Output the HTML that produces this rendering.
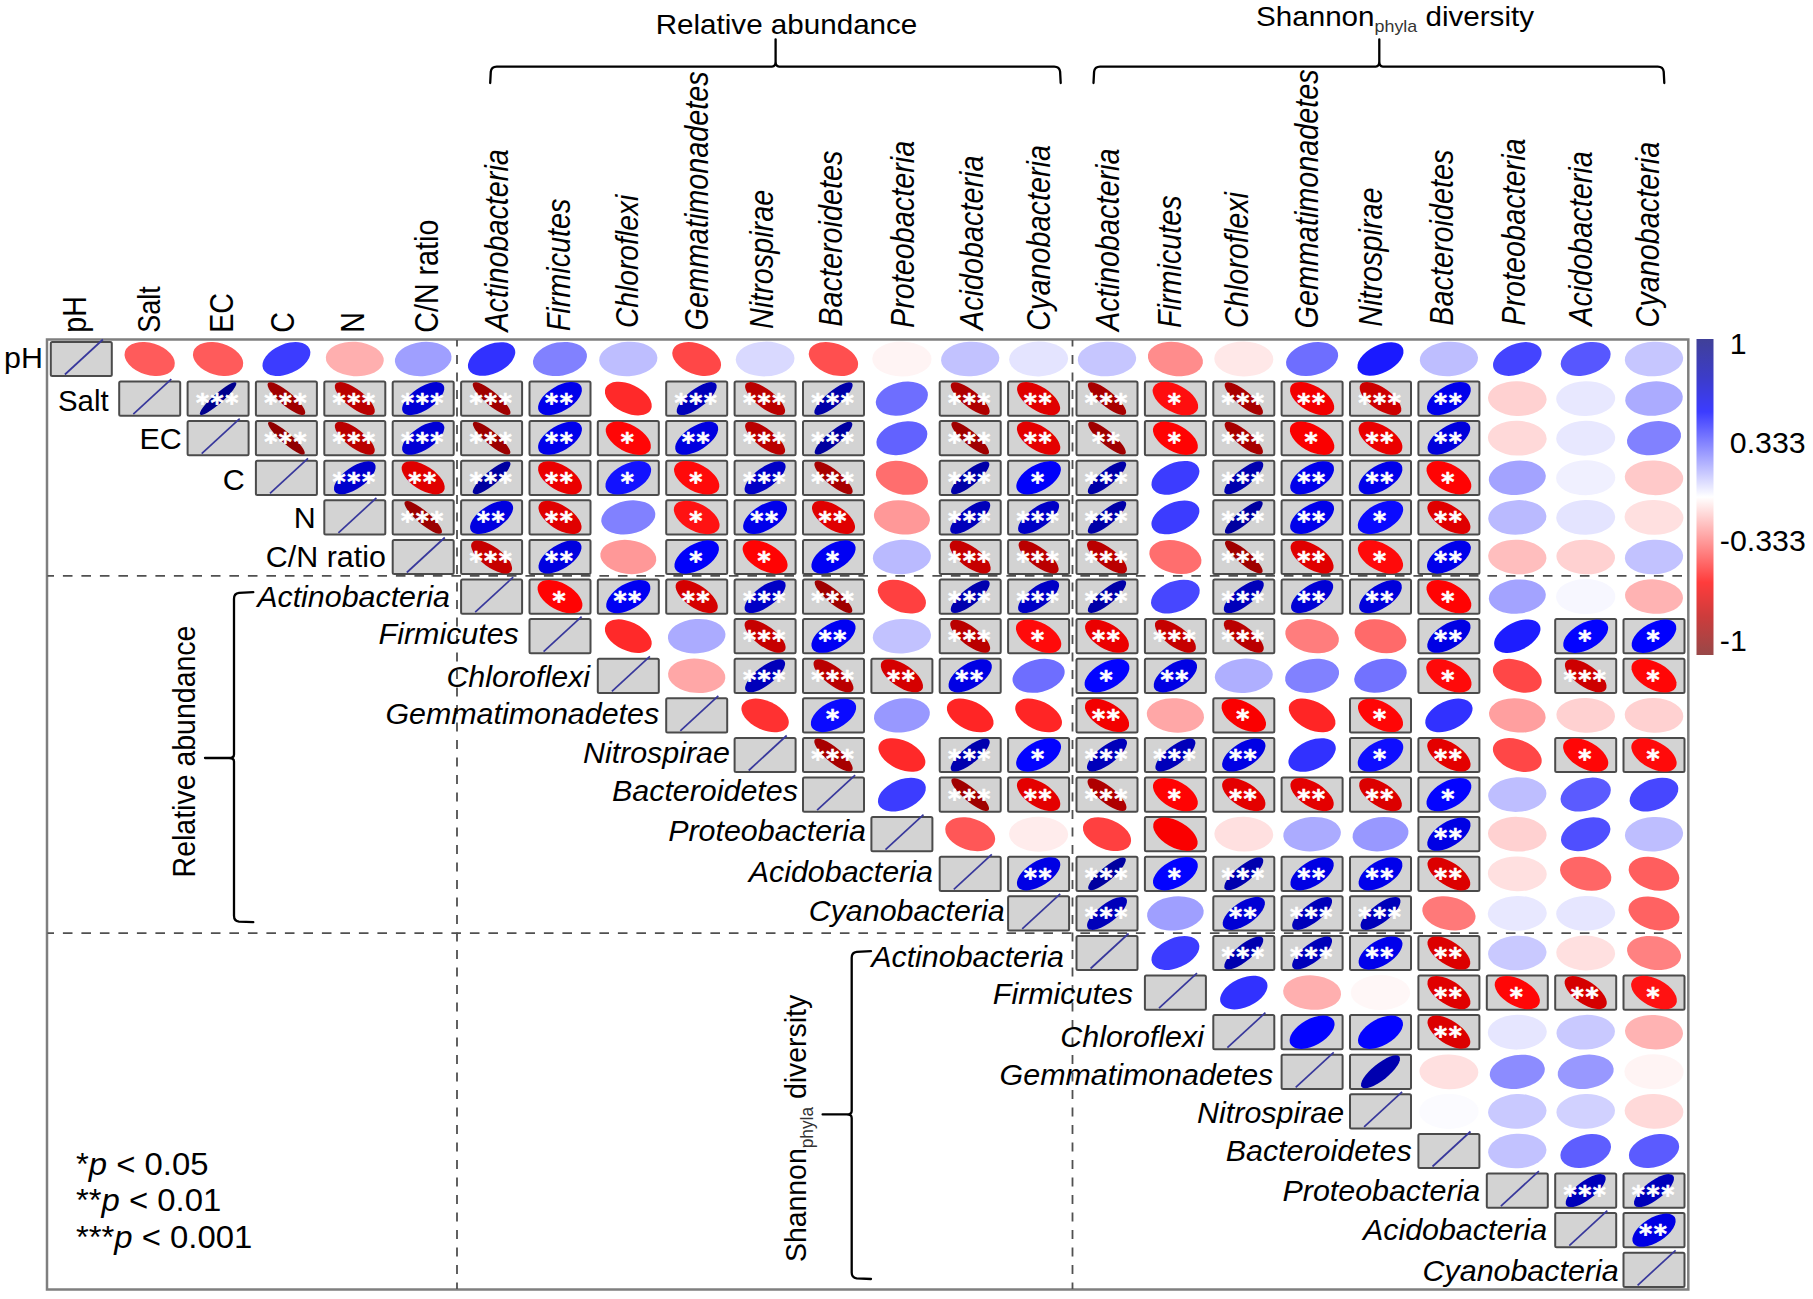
<!DOCTYPE html>
<html><head><meta charset="utf-8"><title>Correlation matrix</title>
<style>
html,body{margin:0;padding:0;background:#fff;}
svg{display:block;}
text{font-family:"Liberation Sans",Arial,sans-serif;fill:#000;}
.i{font-style:italic;}
.st{font-family:"DejaVu Sans",sans-serif;font-weight:bold;fill:#fff;stroke:#fff;stroke-width:0.6;font-size:25px;text-anchor:middle;}
.bx{fill:#d3d3d3;stroke:#4b4b4b;stroke-width:2;rx:1.5px;}
.dg{stroke:#38389c;stroke-width:1.7;}
.ds{stroke:#505050;stroke-width:1.8;fill:none;}
.br{stroke:#000;stroke-width:2.3;fill:none;stroke-linecap:round;stroke-linejoin:round;}
</style></head><body>
<svg width="1813" height="1299" viewBox="0 0 1813 1299">
<defs><linearGradient id="cb" x1="0" y1="0" x2="0" y2="1"><stop offset="0" stop-color="#404098"/><stop offset="0.12" stop-color="#3c3cc8"/><stop offset="0.23" stop-color="#3c3cff"/><stop offset="0.5" stop-color="#ffffff"/><stop offset="0.77" stop-color="#ff3c3c"/><stop offset="0.88" stop-color="#cc3c3c"/><stop offset="1" stop-color="#984848"/></linearGradient></defs>
<rect x="0" y="0" width="1813" height="1299" fill="#fff"/>
<rect x="47" y="339.5" width="1641.3" height="950" fill="none" stroke="#7f7f7f" stroke-width="2.5"/>
<g class="ds"><line x1="457.0" y1="340" x2="457.0" y2="1289" stroke-dasharray="9 8.5" stroke-dashoffset="2.4"/><line x1="1072.5" y1="340" x2="1072.5" y2="1289" stroke-dasharray="9 8.5" stroke-dashoffset="2.4"/><line x1="47.5" y1="575.8" x2="1687" y2="575.8" stroke-dasharray="9.6 8.9" stroke-dashoffset="3.1"/><line x1="47.5" y1="933.1" x2="1687" y2="933.1" stroke-dasharray="9.6 8.9" stroke-dashoffset="3.1"/></g>
<rect class="bx" x="50.8" y="341.9" width="61.0" height="34.2"/><line class="dg" x1="64.9" y1="374.5" x2="102.9" y2="339.5"/>
<ellipse cx="149.7" cy="359.0" rx="25.83" ry="15.92" transform="rotate(-163.1 149.7 359.0)" fill="#ff5b5b"/>
<ellipse cx="218.1" cy="359.0" rx="25.83" ry="15.92" transform="rotate(-163.1 218.1 359.0)" fill="#ff5b5b"/>
<ellipse cx="286.4" cy="359.0" rx="25.33" ry="14.79" transform="rotate(156.6 286.4 359.0)" fill="#3c3cff"/>
<ellipse cx="354.8" cy="359.0" rx="29.02" ry="17.18" transform="rotate(-176.3 354.8 359.0)" fill="#ffafaf"/>
<ellipse cx="423.2" cy="359.0" rx="28.42" ry="17.05" transform="rotate(174.2 423.2 359.0)" fill="#9f9fff"/>
<ellipse cx="491.6" cy="359.0" rx="25.18" ry="14.50" transform="rotate(155.4 491.6 359.0)" fill="#3131ff"/>
<ellipse cx="560.0" cy="359.0" rx="27.30" ry="16.66" transform="rotate(169.6 560.0 359.0)" fill="#8181ff"/>
<ellipse cx="628.3" cy="359.0" rx="29.15" ry="17.25" transform="rotate(177.0 628.3 359.0)" fill="#bebeff"/>
<ellipse cx="696.7" cy="359.0" rx="25.49" ry="15.25" transform="rotate(-158.9 696.7 359.0)" fill="#ff4747"/>
<ellipse cx="765.1" cy="359.0" rx="29.39" ry="17.37" transform="rotate(178.3 765.1 359.0)" fill="#d9d9ff"/>
<ellipse cx="833.5" cy="359.0" rx="25.62" ry="15.53" transform="rotate(-160.5 833.5 359.0)" fill="#ff4f4f"/>
<ellipse cx="901.9" cy="359.0" rx="29.64" ry="17.46" transform="rotate(-179.5 901.9 359.0)" fill="#fff4f4"/>
<ellipse cx="970.2" cy="359.0" rx="29.18" ry="17.27" transform="rotate(177.2 970.2 359.0)" fill="#c2c2ff"/>
<ellipse cx="1038.6" cy="359.0" rx="29.50" ry="17.41" transform="rotate(178.8 1038.6 359.0)" fill="#e4e4ff"/>
<ellipse cx="1107.0" cy="359.0" rx="29.22" ry="17.29" transform="rotate(177.4 1107.0 359.0)" fill="#c6c6ff"/>
<ellipse cx="1175.4" cy="359.0" rx="27.71" ry="16.82" transform="rotate(-171.4 1175.4 359.0)" fill="#ff8c8c"/>
<ellipse cx="1243.8" cy="359.0" rx="29.53" ry="17.42" transform="rotate(-179.0 1243.8 359.0)" fill="#ffe8e8"/>
<ellipse cx="1312.1" cy="359.0" rx="26.54" ry="16.32" transform="rotate(166.4 1312.1 359.0)" fill="#6e6eff"/>
<ellipse cx="1380.5" cy="359.0" rx="24.92" ry="13.90" transform="rotate(152.9 1380.5 359.0)" fill="#1a1aff"/>
<ellipse cx="1448.9" cy="359.0" rx="29.15" ry="17.25" transform="rotate(177.0 1448.9 359.0)" fill="#bebeff"/>
<ellipse cx="1517.3" cy="359.0" rx="25.44" ry="15.10" transform="rotate(158.2 1517.3 359.0)" fill="#4444ff"/>
<ellipse cx="1585.7" cy="359.0" rx="25.75" ry="15.79" transform="rotate(162.2 1585.7 359.0)" fill="#5757ff"/>
<ellipse cx="1654.0" cy="359.0" rx="29.22" ry="17.29" transform="rotate(177.4 1654.0 359.0)" fill="#c6c6ff"/>
<rect class="bx" x="119.2" y="381.5" width="61.0" height="34.2"/><line class="dg" x1="133.3" y1="414.1" x2="171.3" y2="379.1"/>
<rect class="bx" x="187.6" y="381.5" width="61.0" height="34.2"/><ellipse cx="218.1" cy="398.6" rx="24.04" ry="4.87" transform="rotate(138.5 218.1 398.6)" fill="#00008d"/><text class="st" x="217.9" y="410.6" letter-spacing="1.6">***</text>
<rect class="bx" x="255.9" y="381.5" width="61.0" height="34.2"/><ellipse cx="286.4" cy="398.6" rx="24.08" ry="6.66" transform="rotate(-139.7 286.4 398.6)" fill="#a00000"/><text class="st" x="286.2" y="410.6" letter-spacing="1.6">***</text>
<rect class="bx" x="324.3" y="381.5" width="61.0" height="34.2"/><ellipse cx="354.8" cy="398.6" rx="24.26" ry="9.14" transform="rotate(-142.4 354.8 398.6)" fill="#ba0000"/><text class="st" x="354.6" y="410.6" letter-spacing="1.6">***</text>
<rect class="bx" x="392.7" y="381.5" width="61.0" height="34.2"/><ellipse cx="423.2" cy="398.6" rx="24.38" ry="11.23" transform="rotate(145.8 423.2 398.6)" fill="#0000d5"/><text class="st" x="423.0" y="410.6" letter-spacing="1.6">***</text>
<rect class="bx" x="461.1" y="381.5" width="61.0" height="34.2"/><ellipse cx="491.6" cy="398.6" rx="24.08" ry="6.66" transform="rotate(-139.7 491.6 398.6)" fill="#a00000"/><text class="st" x="491.4" y="410.6" letter-spacing="1.6">***</text>
<rect class="bx" x="529.5" y="381.5" width="61.0" height="34.2"/><ellipse cx="560.0" cy="398.6" rx="24.53" ry="12.53" transform="rotate(148.8 560.0 398.6)" fill="#0000eb"/><text class="st" x="559.8" y="410.6" letter-spacing="1.6">**</text>
<ellipse cx="628.3" cy="398.6" rx="25.09" ry="14.31" transform="rotate(-154.5 628.3 398.6)" fill="#ff2929"/>
<rect class="bx" x="666.2" y="381.5" width="61.0" height="34.2"/><ellipse cx="696.7" cy="398.6" rx="24.26" ry="9.14" transform="rotate(142.4 696.7 398.6)" fill="#0000ba"/><text class="st" x="696.5" y="410.6" letter-spacing="1.6">***</text>
<rect class="bx" x="734.6" y="381.5" width="61.0" height="34.2"/><ellipse cx="765.1" cy="398.6" rx="24.26" ry="9.14" transform="rotate(-142.4 765.1 398.6)" fill="#ba0000"/><text class="st" x="764.9" y="410.6" letter-spacing="1.6">***</text>
<rect class="bx" x="803.0" y="381.5" width="61.0" height="34.2"/><ellipse cx="833.5" cy="398.6" rx="24.13" ry="7.43" transform="rotate(140.4 833.5 398.6)" fill="#0000a8"/><text class="st" x="833.3" y="410.6" letter-spacing="1.6">***</text>
<ellipse cx="901.9" cy="398.6" rx="26.54" ry="16.32" transform="rotate(166.4 901.9 398.6)" fill="#6e6eff"/>
<rect class="bx" x="939.7" y="381.5" width="61.0" height="34.2"/><ellipse cx="970.2" cy="398.6" rx="24.18" ry="8.15" transform="rotate(-141.1 970.2 398.6)" fill="#af0000"/><text class="st" x="970.0" y="410.6" letter-spacing="1.6">***</text>
<rect class="bx" x="1008.1" y="381.5" width="61.0" height="34.2"/><ellipse cx="1038.6" cy="398.6" rx="24.45" ry="11.90" transform="rotate(-147.2 1038.6 398.6)" fill="#e00000"/><text class="st" x="1038.4" y="410.6" letter-spacing="1.6">**</text>
<rect class="bx" x="1076.5" y="381.5" width="61.0" height="34.2"/><ellipse cx="1107.0" cy="398.6" rx="24.13" ry="7.43" transform="rotate(-140.4 1107.0 398.6)" fill="#a80000"/><text class="st" x="1106.8" y="410.6" letter-spacing="1.6">***</text>
<rect class="bx" x="1144.9" y="381.5" width="61.0" height="34.2"/><ellipse cx="1175.4" cy="398.6" rx="24.79" ry="13.58" transform="rotate(-151.8 1175.4 398.6)" fill="#ff0e0e"/><text class="st" x="1174.4" y="410.6">*</text>
<rect class="bx" x="1213.3" y="381.5" width="61.0" height="34.2"/><ellipse cx="1243.8" cy="398.6" rx="24.13" ry="7.43" transform="rotate(-140.4 1243.8 398.6)" fill="#a80000"/><text class="st" x="1243.6" y="410.6" letter-spacing="1.6">***</text>
<rect class="bx" x="1281.6" y="381.5" width="61.0" height="34.2"/><ellipse cx="1312.1" cy="398.6" rx="24.57" ry="12.78" transform="rotate(-149.4 1312.1 398.6)" fill="#f30000"/><text class="st" x="1311.9" y="410.6" letter-spacing="1.6">**</text>
<rect class="bx" x="1350.0" y="381.5" width="61.0" height="34.2"/><ellipse cx="1380.5" cy="398.6" rx="24.33" ry="10.77" transform="rotate(-144.9 1380.5 398.6)" fill="#cd0000"/><text class="st" x="1380.3" y="410.6" letter-spacing="1.6">***</text>
<rect class="bx" x="1418.4" y="381.5" width="61.0" height="34.2"/><ellipse cx="1448.9" cy="398.6" rx="24.53" ry="12.53" transform="rotate(148.8 1448.9 398.6)" fill="#0000eb"/><text class="st" x="1448.7" y="410.6" letter-spacing="1.6">**</text>
<ellipse cx="1517.3" cy="398.6" rx="29.32" ry="17.33" transform="rotate(-177.9 1517.3 398.6)" fill="#ffd1d1"/>
<ellipse cx="1585.7" cy="398.6" rx="29.53" ry="17.42" transform="rotate(179.0 1585.7 398.6)" fill="#e8e8ff"/>
<ellipse cx="1654.0" cy="398.6" rx="28.86" ry="17.15" transform="rotate(175.8 1654.0 398.6)" fill="#ababff"/>
<rect class="bx" x="187.6" y="421.1" width="61.0" height="34.2"/><line class="dg" x1="201.7" y1="453.7" x2="239.7" y2="418.7"/>
<rect class="bx" x="255.9" y="421.1" width="61.0" height="34.2"/><ellipse cx="286.4" cy="438.2" rx="24.05" ry="5.27" transform="rotate(-138.7 286.4 438.2)" fill="#910000"/><text class="st" x="286.2" y="450.2" letter-spacing="1.6">***</text>
<rect class="bx" x="324.3" y="421.1" width="61.0" height="34.2"/><ellipse cx="354.8" cy="438.2" rx="24.26" ry="9.14" transform="rotate(-142.4 354.8 438.2)" fill="#ba0000"/><text class="st" x="354.6" y="450.2" letter-spacing="1.6">***</text>
<rect class="bx" x="392.7" y="421.1" width="61.0" height="34.2"/><ellipse cx="423.2" cy="438.2" rx="24.38" ry="11.23" transform="rotate(145.8 423.2 438.2)" fill="#0000d5"/><text class="st" x="423.0" y="450.2" letter-spacing="1.6">***</text>
<rect class="bx" x="461.1" y="421.1" width="61.0" height="34.2"/><ellipse cx="491.6" cy="438.2" rx="24.08" ry="6.33" transform="rotate(-139.4 491.6 438.2)" fill="#9c0000"/><text class="st" x="491.4" y="450.2" letter-spacing="1.6">***</text>
<rect class="bx" x="529.5" y="421.1" width="61.0" height="34.2"/><ellipse cx="560.0" cy="438.2" rx="24.53" ry="12.53" transform="rotate(148.8 560.0 438.2)" fill="#0000eb"/><text class="st" x="559.8" y="450.2" letter-spacing="1.6">**</text>
<rect class="bx" x="597.8" y="421.1" width="61.0" height="34.2"/><ellipse cx="628.3" cy="438.2" rx="24.71" ry="13.36" transform="rotate(-151.1 628.3 438.2)" fill="#ff0606"/><text class="st" x="627.3" y="450.2">*</text>
<rect class="bx" x="666.2" y="421.1" width="61.0" height="34.2"/><ellipse cx="696.7" cy="438.2" rx="24.45" ry="11.90" transform="rotate(147.2 696.7 438.2)" fill="#0000e0"/><text class="st" x="696.5" y="450.2" letter-spacing="1.6">**</text>
<rect class="bx" x="734.6" y="421.1" width="61.0" height="34.2"/><ellipse cx="765.1" cy="438.2" rx="24.26" ry="9.14" transform="rotate(-142.4 765.1 438.2)" fill="#ba0000"/><text class="st" x="764.9" y="450.2" letter-spacing="1.6">***</text>
<rect class="bx" x="803.0" y="421.1" width="61.0" height="34.2"/><ellipse cx="833.5" cy="438.2" rx="24.08" ry="6.66" transform="rotate(139.7 833.5 438.2)" fill="#0000a0"/><text class="st" x="833.3" y="450.2" letter-spacing="1.6">***</text>
<ellipse cx="901.9" cy="438.2" rx="26.10" ry="16.09" transform="rotate(164.4 901.9 438.2)" fill="#6262ff"/>
<rect class="bx" x="939.7" y="421.1" width="61.0" height="34.2"/><ellipse cx="970.2" cy="438.2" rx="24.08" ry="6.66" transform="rotate(-139.7 970.2 438.2)" fill="#a00000"/><text class="st" x="970.0" y="450.2" letter-spacing="1.6">***</text>
<rect class="bx" x="1008.1" y="421.1" width="61.0" height="34.2"/><ellipse cx="1038.6" cy="438.2" rx="24.48" ry="12.11" transform="rotate(-147.7 1038.6 438.2)" fill="#e40000"/><text class="st" x="1038.4" y="450.2" letter-spacing="1.6">**</text>
<rect class="bx" x="1076.5" y="421.1" width="61.0" height="34.2"/><ellipse cx="1107.0" cy="438.2" rx="24.08" ry="6.66" transform="rotate(-139.7 1107.0 438.2)" fill="#a00000"/><text class="st" x="1106.8" y="450.2" letter-spacing="1.6">**</text>
<rect class="bx" x="1144.9" y="421.1" width="61.0" height="34.2"/><ellipse cx="1175.4" cy="438.2" rx="24.67" ry="13.24" transform="rotate(-150.7 1175.4 438.2)" fill="#ff0303"/><text class="st" x="1174.4" y="450.2">*</text>
<rect class="bx" x="1213.3" y="421.1" width="61.0" height="34.2"/><ellipse cx="1243.8" cy="438.2" rx="24.13" ry="7.43" transform="rotate(-140.4 1243.8 438.2)" fill="#a80000"/><text class="st" x="1243.6" y="450.2" letter-spacing="1.6">***</text>
<rect class="bx" x="1281.6" y="421.1" width="61.0" height="34.2"/><ellipse cx="1312.1" cy="438.2" rx="24.61" ry="13.01" transform="rotate(-150.0 1312.1 438.2)" fill="#fa0000"/><text class="st" x="1311.1" y="450.2">*</text>
<rect class="bx" x="1350.0" y="421.1" width="61.0" height="34.2"/><ellipse cx="1380.5" cy="438.2" rx="24.53" ry="12.53" transform="rotate(-148.8 1380.5 438.2)" fill="#eb0000"/><text class="st" x="1380.3" y="450.2" letter-spacing="1.6">**</text>
<rect class="bx" x="1418.4" y="421.1" width="61.0" height="34.2"/><ellipse cx="1448.9" cy="438.2" rx="24.43" ry="11.68" transform="rotate(146.7 1448.9 438.2)" fill="#0000dc"/><text class="st" x="1448.7" y="450.2" letter-spacing="1.6">**</text>
<ellipse cx="1517.3" cy="438.2" rx="29.39" ry="17.37" transform="rotate(-178.3 1517.3 438.2)" fill="#ffd9d9"/>
<ellipse cx="1585.7" cy="438.2" rx="29.53" ry="17.42" transform="rotate(179.0 1585.7 438.2)" fill="#e8e8ff"/>
<ellipse cx="1654.0" cy="438.2" rx="27.30" ry="16.66" transform="rotate(169.6 1654.0 438.2)" fill="#8181ff"/>
<rect class="bx" x="255.9" y="460.7" width="61.0" height="34.2"/><line class="dg" x1="270.0" y1="493.3" x2="308.0" y2="458.3"/>
<rect class="bx" x="324.3" y="460.7" width="61.0" height="34.2"/><ellipse cx="354.8" cy="477.8" rx="24.33" ry="10.77" transform="rotate(144.9 354.8 477.8)" fill="#0000cd"/><text class="st" x="354.6" y="489.8" letter-spacing="1.6">***</text>
<rect class="bx" x="392.7" y="460.7" width="61.0" height="34.2"/><ellipse cx="423.2" cy="477.8" rx="24.45" ry="11.90" transform="rotate(-147.2 423.2 477.8)" fill="#e00000"/><text class="st" x="423.0" y="489.8" letter-spacing="1.6">**</text>
<rect class="bx" x="461.1" y="460.7" width="61.0" height="34.2"/><ellipse cx="491.6" cy="477.8" rx="24.08" ry="6.66" transform="rotate(139.7 491.6 477.8)" fill="#0000a0"/><text class="st" x="491.4" y="489.8" letter-spacing="1.6">***</text>
<rect class="bx" x="529.5" y="460.7" width="61.0" height="34.2"/><ellipse cx="560.0" cy="477.8" rx="24.53" ry="12.53" transform="rotate(-148.8 560.0 477.8)" fill="#eb0000"/><text class="st" x="559.8" y="489.8" letter-spacing="1.6">**</text>
<rect class="bx" x="597.8" y="460.7" width="61.0" height="34.2"/><ellipse cx="628.3" cy="477.8" rx="24.83" ry="13.68" transform="rotate(152.2 628.3 477.8)" fill="#1212ff"/><text class="st" x="627.3" y="489.8">*</text>
<rect class="bx" x="666.2" y="460.7" width="61.0" height="34.2"/><ellipse cx="696.7" cy="477.8" rx="24.75" ry="13.47" transform="rotate(-151.4 696.7 477.8)" fill="#ff0a0a"/><text class="st" x="695.7" y="489.8">*</text>
<rect class="bx" x="734.6" y="460.7" width="61.0" height="34.2"/><ellipse cx="765.1" cy="477.8" rx="24.30" ry="10.14" transform="rotate(143.8 765.1 477.8)" fill="#0000c6"/><text class="st" x="764.9" y="489.8" letter-spacing="1.6">***</text>
<rect class="bx" x="803.0" y="460.7" width="61.0" height="34.2"/><ellipse cx="833.5" cy="477.8" rx="24.13" ry="7.43" transform="rotate(-140.4 833.5 477.8)" fill="#a80000"/><text class="st" x="833.3" y="489.8" letter-spacing="1.6">***</text>
<ellipse cx="901.9" cy="477.8" rx="26.54" ry="16.32" transform="rotate(-166.4 901.9 477.8)" fill="#ff6e6e"/>
<rect class="bx" x="939.7" y="460.7" width="61.0" height="34.2"/><ellipse cx="970.2" cy="477.8" rx="24.13" ry="7.43" transform="rotate(140.4 970.2 477.8)" fill="#0000a8"/><text class="st" x="970.0" y="489.8" letter-spacing="1.6">***</text>
<rect class="bx" x="1008.1" y="460.7" width="61.0" height="34.2"/><ellipse cx="1038.6" cy="477.8" rx="24.61" ry="13.01" transform="rotate(150.0 1038.6 477.8)" fill="#0000fa"/><text class="st" x="1037.6" y="489.8">*</text>
<rect class="bx" x="1076.5" y="460.7" width="61.0" height="34.2"/><ellipse cx="1107.0" cy="477.8" rx="24.13" ry="7.43" transform="rotate(140.4 1107.0 477.8)" fill="#0000a8"/><text class="st" x="1106.8" y="489.8" letter-spacing="1.6">***</text>
<ellipse cx="1175.4" cy="477.8" rx="25.33" ry="14.79" transform="rotate(156.6 1175.4 477.8)" fill="#3c3cff"/>
<rect class="bx" x="1213.3" y="460.7" width="61.0" height="34.2"/><ellipse cx="1243.8" cy="477.8" rx="24.18" ry="8.15" transform="rotate(141.1 1243.8 477.8)" fill="#0000af"/><text class="st" x="1243.6" y="489.8" letter-spacing="1.6">***</text>
<rect class="bx" x="1281.6" y="460.7" width="61.0" height="34.2"/><ellipse cx="1312.1" cy="477.8" rx="24.53" ry="12.53" transform="rotate(148.8 1312.1 477.8)" fill="#0000eb"/><text class="st" x="1311.9" y="489.8" letter-spacing="1.6">**</text>
<rect class="bx" x="1350.0" y="460.7" width="61.0" height="34.2"/><ellipse cx="1380.5" cy="477.8" rx="24.53" ry="12.53" transform="rotate(148.8 1380.5 477.8)" fill="#0000eb"/><text class="st" x="1380.3" y="489.8" letter-spacing="1.6">**</text>
<rect class="bx" x="1418.4" y="460.7" width="61.0" height="34.2"/><ellipse cx="1448.9" cy="477.8" rx="24.67" ry="13.24" transform="rotate(-150.7 1448.9 477.8)" fill="#ff0303"/><text class="st" x="1447.9" y="489.8">*</text>
<ellipse cx="1517.3" cy="477.8" rx="28.56" ry="17.08" transform="rotate(174.8 1517.3 477.8)" fill="#a3a3ff"/>
<ellipse cx="1585.7" cy="477.8" rx="29.60" ry="17.45" transform="rotate(179.3 1585.7 477.8)" fill="#f0f0ff"/>
<ellipse cx="1654.0" cy="477.8" rx="29.25" ry="17.30" transform="rotate(-177.6 1654.0 477.8)" fill="#ffc9c9"/>
<rect class="bx" x="324.3" y="500.3" width="61.0" height="34.2"/><line class="dg" x1="338.4" y1="532.9" x2="376.4" y2="497.9"/>
<rect class="bx" x="392.7" y="500.3" width="61.0" height="34.2"/><ellipse cx="423.2" cy="517.4" rx="24.08" ry="6.33" transform="rotate(-139.4 423.2 517.4)" fill="#9c0000"/><text class="st" x="423.0" y="529.4" letter-spacing="1.6">***</text>
<rect class="bx" x="461.1" y="500.3" width="61.0" height="34.2"/><ellipse cx="491.6" cy="517.4" rx="24.45" ry="11.90" transform="rotate(147.2 491.6 517.4)" fill="#0000e0"/><text class="st" x="491.4" y="529.4" letter-spacing="1.6">**</text>
<rect class="bx" x="529.5" y="500.3" width="61.0" height="34.2"/><ellipse cx="560.0" cy="517.4" rx="24.45" ry="11.90" transform="rotate(-147.2 560.0 517.4)" fill="#e00000"/><text class="st" x="559.8" y="529.4" letter-spacing="1.6">**</text>
<ellipse cx="628.3" cy="517.4" rx="27.30" ry="16.66" transform="rotate(169.6 628.3 517.4)" fill="#8181ff"/>
<rect class="bx" x="666.2" y="500.3" width="61.0" height="34.2"/><ellipse cx="696.7" cy="517.4" rx="24.83" ry="13.68" transform="rotate(-152.2 696.7 517.4)" fill="#ff1212"/><text class="st" x="695.7" y="529.4">*</text>
<rect class="bx" x="734.6" y="500.3" width="61.0" height="34.2"/><ellipse cx="765.1" cy="517.4" rx="24.53" ry="12.53" transform="rotate(148.8 765.1 517.4)" fill="#0000eb"/><text class="st" x="764.9" y="529.4" letter-spacing="1.6">**</text>
<rect class="bx" x="803.0" y="500.3" width="61.0" height="34.2"/><ellipse cx="833.5" cy="517.4" rx="24.45" ry="11.90" transform="rotate(-147.2 833.5 517.4)" fill="#e00000"/><text class="st" x="833.3" y="529.4" letter-spacing="1.6">**</text>
<ellipse cx="901.9" cy="517.4" rx="28.13" ry="16.96" transform="rotate(-173.1 901.9 517.4)" fill="#ff9898"/>
<rect class="bx" x="939.7" y="500.3" width="61.0" height="34.2"/><ellipse cx="970.2" cy="517.4" rx="24.26" ry="9.14" transform="rotate(142.4 970.2 517.4)" fill="#0000ba"/><text class="st" x="970.0" y="529.4" letter-spacing="1.6">***</text>
<rect class="bx" x="1008.1" y="500.3" width="61.0" height="34.2"/><ellipse cx="1038.6" cy="517.4" rx="24.30" ry="10.14" transform="rotate(143.8 1038.6 517.4)" fill="#0000c6"/><text class="st" x="1038.4" y="529.4" letter-spacing="1.6">***</text>
<rect class="bx" x="1076.5" y="500.3" width="61.0" height="34.2"/><ellipse cx="1107.0" cy="517.4" rx="24.13" ry="7.43" transform="rotate(140.4 1107.0 517.4)" fill="#0000a8"/><text class="st" x="1106.8" y="529.4" letter-spacing="1.6">***</text>
<ellipse cx="1175.4" cy="517.4" rx="25.33" ry="14.79" transform="rotate(156.6 1175.4 517.4)" fill="#3c3cff"/>
<rect class="bx" x="1213.3" y="500.3" width="61.0" height="34.2"/><ellipse cx="1243.8" cy="517.4" rx="24.08" ry="6.66" transform="rotate(139.7 1243.8 517.4)" fill="#0000a0"/><text class="st" x="1243.6" y="529.4" letter-spacing="1.6">***</text>
<rect class="bx" x="1281.6" y="500.3" width="61.0" height="34.2"/><ellipse cx="1312.1" cy="517.4" rx="24.53" ry="12.53" transform="rotate(148.8 1312.1 517.4)" fill="#0000eb"/><text class="st" x="1311.9" y="529.4" letter-spacing="1.6">**</text>
<rect class="bx" x="1350.0" y="500.3" width="61.0" height="34.2"/><ellipse cx="1380.5" cy="517.4" rx="24.75" ry="13.47" transform="rotate(151.4 1380.5 517.4)" fill="#0a0aff"/><text class="st" x="1379.5" y="529.4">*</text>
<rect class="bx" x="1418.4" y="500.3" width="61.0" height="34.2"/><ellipse cx="1448.9" cy="517.4" rx="24.45" ry="11.90" transform="rotate(-147.2 1448.9 517.4)" fill="#e00000"/><text class="st" x="1448.7" y="529.4" letter-spacing="1.6">**</text>
<ellipse cx="1517.3" cy="517.4" rx="29.11" ry="17.24" transform="rotate(176.9 1517.3 517.4)" fill="#babaff"/>
<ellipse cx="1585.7" cy="517.4" rx="29.50" ry="17.41" transform="rotate(178.8 1585.7 517.4)" fill="#e4e4ff"/>
<ellipse cx="1654.0" cy="517.4" rx="29.46" ry="17.39" transform="rotate(-178.6 1654.0 517.4)" fill="#ffe0e0"/>
<rect class="bx" x="392.7" y="539.9" width="61.0" height="34.2"/><line class="dg" x1="406.8" y1="572.5" x2="444.8" y2="537.5"/>
<rect class="bx" x="461.1" y="539.9" width="61.0" height="34.2"/><ellipse cx="491.6" cy="557.0" rx="24.30" ry="10.14" transform="rotate(-143.8 491.6 557.0)" fill="#c60000"/><text class="st" x="491.4" y="569.0" letter-spacing="1.6">***</text>
<rect class="bx" x="529.5" y="539.9" width="61.0" height="34.2"/><ellipse cx="560.0" cy="557.0" rx="24.45" ry="11.90" transform="rotate(147.2 560.0 557.0)" fill="#0000e0"/><text class="st" x="559.8" y="569.0" letter-spacing="1.6">**</text>
<ellipse cx="628.3" cy="557.0" rx="28.13" ry="16.96" transform="rotate(-173.1 628.3 557.0)" fill="#ff9898"/>
<rect class="bx" x="666.2" y="539.9" width="61.0" height="34.2"/><ellipse cx="696.7" cy="557.0" rx="24.61" ry="13.01" transform="rotate(150.0 696.7 557.0)" fill="#0000fa"/><text class="st" x="695.7" y="569.0">*</text>
<rect class="bx" x="734.6" y="539.9" width="61.0" height="34.2"/><ellipse cx="765.1" cy="557.0" rx="24.67" ry="13.24" transform="rotate(-150.7 765.1 557.0)" fill="#ff0303"/><text class="st" x="764.1" y="569.0">*</text>
<rect class="bx" x="803.0" y="539.9" width="61.0" height="34.2"/><ellipse cx="833.5" cy="557.0" rx="24.57" ry="12.78" transform="rotate(149.4 833.5 557.0)" fill="#0000f3"/><text class="st" x="832.5" y="569.0">*</text>
<ellipse cx="901.9" cy="557.0" rx="29.11" ry="17.24" transform="rotate(176.9 901.9 557.0)" fill="#babaff"/>
<rect class="bx" x="939.7" y="539.9" width="61.0" height="34.2"/><ellipse cx="970.2" cy="557.0" rx="24.30" ry="10.14" transform="rotate(-143.8 970.2 557.0)" fill="#c60000"/><text class="st" x="970.0" y="569.0" letter-spacing="1.6">***</text>
<rect class="bx" x="1008.1" y="539.9" width="61.0" height="34.2"/><ellipse cx="1038.6" cy="557.0" rx="24.26" ry="9.14" transform="rotate(-142.4 1038.6 557.0)" fill="#ba0000"/><text class="st" x="1038.4" y="569.0" letter-spacing="1.6">***</text>
<rect class="bx" x="1076.5" y="539.9" width="61.0" height="34.2"/><ellipse cx="1107.0" cy="557.0" rx="24.26" ry="9.14" transform="rotate(-142.4 1107.0 557.0)" fill="#ba0000"/><text class="st" x="1106.8" y="569.0" letter-spacing="1.6">***</text>
<ellipse cx="1175.4" cy="557.0" rx="26.54" ry="16.32" transform="rotate(-166.4 1175.4 557.0)" fill="#ff6e6e"/>
<rect class="bx" x="1213.3" y="539.9" width="61.0" height="34.2"/><ellipse cx="1243.8" cy="557.0" rx="24.08" ry="6.66" transform="rotate(-139.7 1243.8 557.0)" fill="#a00000"/><text class="st" x="1243.6" y="569.0" letter-spacing="1.6">***</text>
<rect class="bx" x="1281.6" y="539.9" width="61.0" height="34.2"/><ellipse cx="1312.1" cy="557.0" rx="24.45" ry="11.90" transform="rotate(-147.2 1312.1 557.0)" fill="#e00000"/><text class="st" x="1311.9" y="569.0" letter-spacing="1.6">**</text>
<rect class="bx" x="1350.0" y="539.9" width="61.0" height="34.2"/><ellipse cx="1380.5" cy="557.0" rx="24.75" ry="13.47" transform="rotate(-151.4 1380.5 557.0)" fill="#ff0a0a"/><text class="st" x="1379.5" y="569.0">*</text>
<rect class="bx" x="1418.4" y="539.9" width="61.0" height="34.2"/><ellipse cx="1448.9" cy="557.0" rx="24.53" ry="12.53" transform="rotate(148.8 1448.9 557.0)" fill="#0000eb"/><text class="st" x="1448.7" y="569.0" letter-spacing="1.6">**</text>
<ellipse cx="1517.3" cy="557.0" rx="29.15" ry="17.25" transform="rotate(-177.0 1517.3 557.0)" fill="#ffbebe"/>
<ellipse cx="1585.7" cy="557.0" rx="29.32" ry="17.33" transform="rotate(-177.9 1585.7 557.0)" fill="#ffd1d1"/>
<ellipse cx="1654.0" cy="557.0" rx="29.18" ry="17.27" transform="rotate(177.2 1654.0 557.0)" fill="#c2c2ff"/>
<rect class="bx" x="461.1" y="579.5" width="61.0" height="34.2"/><line class="dg" x1="475.2" y1="612.1" x2="513.2" y2="577.1"/>
<rect class="bx" x="529.5" y="579.5" width="61.0" height="34.2"/><ellipse cx="560.0" cy="596.6" rx="24.67" ry="13.24" transform="rotate(-150.7 560.0 596.6)" fill="#ff0303"/><text class="st" x="559.0" y="608.6">*</text>
<rect class="bx" x="597.8" y="579.5" width="61.0" height="34.2"/><ellipse cx="628.3" cy="596.6" rx="24.57" ry="12.78" transform="rotate(149.4 628.3 596.6)" fill="#0000f3"/><text class="st" x="628.1" y="608.6" letter-spacing="1.6">**</text>
<rect class="bx" x="666.2" y="579.5" width="61.0" height="34.2"/><ellipse cx="696.7" cy="596.6" rx="24.38" ry="11.23" transform="rotate(-145.8 696.7 596.6)" fill="#d50000"/><text class="st" x="696.5" y="608.6" letter-spacing="1.6">**</text>
<rect class="bx" x="734.6" y="579.5" width="61.0" height="34.2"/><ellipse cx="765.1" cy="596.6" rx="24.30" ry="10.14" transform="rotate(143.8 765.1 596.6)" fill="#0000c6"/><text class="st" x="764.9" y="608.6" letter-spacing="1.6">***</text>
<rect class="bx" x="803.0" y="579.5" width="61.0" height="34.2"/><ellipse cx="833.5" cy="596.6" rx="24.08" ry="6.66" transform="rotate(-139.7 833.5 596.6)" fill="#a00000"/><text class="st" x="833.3" y="608.6" letter-spacing="1.6">***</text>
<ellipse cx="901.9" cy="596.6" rx="25.38" ry="14.95" transform="rotate(-157.4 901.9 596.6)" fill="#ff4040"/>
<rect class="bx" x="939.7" y="579.5" width="61.0" height="34.2"/><ellipse cx="970.2" cy="596.6" rx="24.18" ry="8.15" transform="rotate(141.1 970.2 596.6)" fill="#0000af"/><text class="st" x="970.0" y="608.6" letter-spacing="1.6">***</text>
<rect class="bx" x="1008.1" y="579.5" width="61.0" height="34.2"/><ellipse cx="1038.6" cy="596.6" rx="24.30" ry="10.14" transform="rotate(143.8 1038.6 596.6)" fill="#0000c6"/><text class="st" x="1038.4" y="608.6" letter-spacing="1.6">***</text>
<rect class="bx" x="1076.5" y="579.5" width="61.0" height="34.2"/><ellipse cx="1107.0" cy="596.6" rx="24.13" ry="7.43" transform="rotate(140.4 1107.0 596.6)" fill="#0000a8"/><text class="st" x="1106.8" y="608.6" letter-spacing="1.6">***</text>
<ellipse cx="1175.4" cy="596.6" rx="25.49" ry="15.25" transform="rotate(158.9 1175.4 596.6)" fill="#4747ff"/>
<rect class="bx" x="1213.3" y="579.5" width="61.0" height="34.2"/><ellipse cx="1243.8" cy="596.6" rx="24.26" ry="9.14" transform="rotate(142.4 1243.8 596.6)" fill="#0000ba"/><text class="st" x="1243.6" y="608.6" letter-spacing="1.6">***</text>
<rect class="bx" x="1281.6" y="579.5" width="61.0" height="34.2"/><ellipse cx="1312.1" cy="596.6" rx="24.38" ry="11.23" transform="rotate(145.8 1312.1 596.6)" fill="#0000d5"/><text class="st" x="1311.9" y="608.6" letter-spacing="1.6">**</text>
<rect class="bx" x="1350.0" y="579.5" width="61.0" height="34.2"/><ellipse cx="1380.5" cy="596.6" rx="24.43" ry="11.68" transform="rotate(146.7 1380.5 596.6)" fill="#0000dc"/><text class="st" x="1380.3" y="608.6" letter-spacing="1.6">**</text>
<rect class="bx" x="1418.4" y="579.5" width="61.0" height="34.2"/><ellipse cx="1448.9" cy="596.6" rx="24.67" ry="13.24" transform="rotate(-150.7 1448.9 596.6)" fill="#ff0303"/><text class="st" x="1447.9" y="608.6">*</text>
<ellipse cx="1517.3" cy="596.6" rx="28.56" ry="17.08" transform="rotate(174.8 1517.3 596.6)" fill="#a3a3ff"/>
<ellipse cx="1585.7" cy="596.6" rx="29.68" ry="17.48" transform="rotate(179.7 1585.7 596.6)" fill="#f7f7ff"/>
<ellipse cx="1654.0" cy="596.6" rx="29.05" ry="17.20" transform="rotate(-176.5 1654.0 596.6)" fill="#ffb3b3"/>
<rect class="bx" x="529.5" y="619.1" width="61.0" height="34.2"/><line class="dg" x1="543.6" y1="651.7" x2="581.6" y2="616.7"/>
<ellipse cx="628.3" cy="636.2" rx="25.09" ry="14.31" transform="rotate(-154.5 628.3 636.2)" fill="#ff2929"/>
<ellipse cx="696.7" cy="636.2" rx="28.86" ry="17.15" transform="rotate(175.8 696.7 636.2)" fill="#ababff"/>
<rect class="bx" x="734.6" y="619.1" width="61.0" height="34.2"/><ellipse cx="765.1" cy="636.2" rx="24.30" ry="10.14" transform="rotate(-143.8 765.1 636.2)" fill="#c60000"/><text class="st" x="764.9" y="648.2" letter-spacing="1.6">***</text>
<rect class="bx" x="803.0" y="619.1" width="61.0" height="34.2"/><ellipse cx="833.5" cy="636.2" rx="24.57" ry="12.78" transform="rotate(149.4 833.5 636.2)" fill="#0000f3"/><text class="st" x="833.3" y="648.2" letter-spacing="1.6">**</text>
<ellipse cx="901.9" cy="636.2" rx="29.18" ry="17.27" transform="rotate(177.2 901.9 636.2)" fill="#c2c2ff"/>
<rect class="bx" x="939.7" y="619.1" width="61.0" height="34.2"/><ellipse cx="970.2" cy="636.2" rx="24.26" ry="9.14" transform="rotate(-142.4 970.2 636.2)" fill="#ba0000"/><text class="st" x="970.0" y="648.2" letter-spacing="1.6">***</text>
<rect class="bx" x="1008.1" y="619.1" width="61.0" height="34.2"/><ellipse cx="1038.6" cy="636.2" rx="24.75" ry="13.47" transform="rotate(-151.4 1038.6 636.2)" fill="#ff0a0a"/><text class="st" x="1037.6" y="648.2">*</text>
<rect class="bx" x="1076.5" y="619.1" width="61.0" height="34.2"/><ellipse cx="1107.0" cy="636.2" rx="24.53" ry="12.53" transform="rotate(-148.8 1107.0 636.2)" fill="#eb0000"/><text class="st" x="1106.8" y="648.2" letter-spacing="1.6">**</text>
<rect class="bx" x="1144.9" y="619.1" width="61.0" height="34.2"/><ellipse cx="1175.4" cy="636.2" rx="24.30" ry="10.14" transform="rotate(-143.8 1175.4 636.2)" fill="#c60000"/><text class="st" x="1175.2" y="648.2" letter-spacing="1.6">***</text>
<rect class="bx" x="1213.3" y="619.1" width="61.0" height="34.2"/><ellipse cx="1243.8" cy="636.2" rx="24.26" ry="9.14" transform="rotate(-142.4 1243.8 636.2)" fill="#ba0000"/><text class="st" x="1243.6" y="648.2" letter-spacing="1.6">***</text>
<ellipse cx="1312.1" cy="636.2" rx="27.14" ry="16.59" transform="rotate(-169.0 1312.1 636.2)" fill="#ff7d7d"/>
<ellipse cx="1380.5" cy="636.2" rx="26.39" ry="16.25" transform="rotate(-165.8 1380.5 636.2)" fill="#ff6a6a"/>
<rect class="bx" x="1418.4" y="619.1" width="61.0" height="34.2"/><ellipse cx="1448.9" cy="636.2" rx="24.48" ry="12.11" transform="rotate(147.7 1448.9 636.2)" fill="#0000e4"/><text class="st" x="1448.7" y="648.2" letter-spacing="1.6">**</text>
<ellipse cx="1517.3" cy="636.2" rx="24.96" ry="14.00" transform="rotate(153.3 1517.3 636.2)" fill="#1d1dff"/>
<rect class="bx" x="1555.2" y="619.1" width="61.0" height="34.2"/><ellipse cx="1585.7" cy="636.2" rx="24.67" ry="13.24" transform="rotate(150.7 1585.7 636.2)" fill="#0303ff"/><text class="st" x="1584.7" y="648.2">*</text>
<rect class="bx" x="1623.5" y="619.1" width="61.0" height="34.2"/><ellipse cx="1654.0" cy="636.2" rx="24.63" ry="13.13" transform="rotate(150.3 1654.0 636.2)" fill="#0000fe"/><text class="st" x="1653.0" y="648.2">*</text>
<rect class="bx" x="597.8" y="658.7" width="61.0" height="34.2"/><line class="dg" x1="611.9" y1="691.3" x2="649.9" y2="656.3"/>
<ellipse cx="696.7" cy="675.8" rx="28.71" ry="17.12" transform="rotate(-175.3 696.7 675.8)" fill="#ffa7a7"/>
<rect class="bx" x="734.6" y="658.7" width="61.0" height="34.2"/><ellipse cx="765.1" cy="675.8" rx="24.26" ry="9.14" transform="rotate(142.4 765.1 675.8)" fill="#0000ba"/><text class="st" x="764.9" y="687.8" letter-spacing="1.6">***</text>
<rect class="bx" x="803.0" y="658.7" width="61.0" height="34.2"/><ellipse cx="833.5" cy="675.8" rx="24.26" ry="9.14" transform="rotate(-142.4 833.5 675.8)" fill="#ba0000"/><text class="st" x="833.3" y="687.8" letter-spacing="1.6">***</text>
<rect class="bx" x="871.4" y="658.7" width="61.0" height="34.2"/><ellipse cx="901.9" cy="675.8" rx="24.38" ry="11.23" transform="rotate(-145.8 901.9 675.8)" fill="#d50000"/><text class="st" x="901.7" y="687.8" letter-spacing="1.6">**</text>
<rect class="bx" x="939.7" y="658.7" width="61.0" height="34.2"/><ellipse cx="970.2" cy="675.8" rx="24.48" ry="12.11" transform="rotate(147.7 970.2 675.8)" fill="#0000e4"/><text class="st" x="970.0" y="687.8" letter-spacing="1.6">**</text>
<ellipse cx="1038.6" cy="675.8" rx="26.54" ry="16.32" transform="rotate(166.4 1038.6 675.8)" fill="#6e6eff"/>
<rect class="bx" x="1076.5" y="658.7" width="61.0" height="34.2"/><ellipse cx="1107.0" cy="675.8" rx="24.67" ry="13.24" transform="rotate(150.7 1107.0 675.8)" fill="#0303ff"/><text class="st" x="1106.0" y="687.8">*</text>
<rect class="bx" x="1144.9" y="658.7" width="61.0" height="34.2"/><ellipse cx="1175.4" cy="675.8" rx="24.48" ry="12.11" transform="rotate(147.7 1175.4 675.8)" fill="#0000e4"/><text class="st" x="1175.2" y="687.8" letter-spacing="1.6">**</text>
<ellipse cx="1243.8" cy="675.8" rx="29.02" ry="17.18" transform="rotate(176.3 1243.8 675.8)" fill="#afafff"/>
<ellipse cx="1312.1" cy="675.8" rx="27.30" ry="16.66" transform="rotate(169.6 1312.1 675.8)" fill="#8181ff"/>
<ellipse cx="1380.5" cy="675.8" rx="26.68" ry="16.39" transform="rotate(167.1 1380.5 675.8)" fill="#7272ff"/>
<rect class="bx" x="1418.4" y="658.7" width="61.0" height="34.2"/><ellipse cx="1448.9" cy="675.8" rx="24.75" ry="13.47" transform="rotate(-151.4 1448.9 675.8)" fill="#ff0a0a"/><text class="st" x="1447.9" y="687.8">*</text>
<ellipse cx="1517.3" cy="675.8" rx="25.49" ry="15.25" transform="rotate(-158.9 1517.3 675.8)" fill="#ff4747"/>
<rect class="bx" x="1555.2" y="658.7" width="61.0" height="34.2"/><ellipse cx="1585.7" cy="675.8" rx="24.33" ry="10.77" transform="rotate(-144.9 1585.7 675.8)" fill="#cd0000"/><text class="st" x="1585.5" y="687.8" letter-spacing="1.6">***</text>
<rect class="bx" x="1623.5" y="658.7" width="61.0" height="34.2"/><ellipse cx="1654.0" cy="675.8" rx="24.71" ry="13.36" transform="rotate(-151.1 1654.0 675.8)" fill="#ff0606"/><text class="st" x="1653.0" y="687.8">*</text>
<rect class="bx" x="666.2" y="698.3" width="61.0" height="34.2"/><line class="dg" x1="680.3" y1="730.9" x2="718.3" y2="695.9"/>
<ellipse cx="765.1" cy="715.4" rx="25.18" ry="14.50" transform="rotate(-155.4 765.1 715.4)" fill="#ff3131"/>
<rect class="bx" x="803.0" y="698.3" width="61.0" height="34.2"/><ellipse cx="833.5" cy="715.4" rx="24.75" ry="13.47" transform="rotate(151.4 833.5 715.4)" fill="#0a0aff"/><text class="st" x="832.5" y="727.4">*</text>
<ellipse cx="901.9" cy="715.4" rx="28.13" ry="16.96" transform="rotate(173.1 901.9 715.4)" fill="#9898ff"/>
<ellipse cx="970.2" cy="715.4" rx="25.05" ry="14.21" transform="rotate(-154.1 970.2 715.4)" fill="#ff2525"/>
<ellipse cx="1038.6" cy="715.4" rx="25.05" ry="14.21" transform="rotate(-154.1 1038.6 715.4)" fill="#ff2525"/>
<rect class="bx" x="1076.5" y="698.3" width="61.0" height="34.2"/><ellipse cx="1107.0" cy="715.4" rx="24.57" ry="12.78" transform="rotate(-149.4 1107.0 715.4)" fill="#f30000"/><text class="st" x="1106.8" y="727.4" letter-spacing="1.6">**</text>
<ellipse cx="1175.4" cy="715.4" rx="28.71" ry="17.12" transform="rotate(-175.3 1175.4 715.4)" fill="#ffa7a7"/>
<rect class="bx" x="1213.3" y="698.3" width="61.0" height="34.2"/><ellipse cx="1243.8" cy="715.4" rx="24.61" ry="13.01" transform="rotate(-150.0 1243.8 715.4)" fill="#fa0000"/><text class="st" x="1242.8" y="727.4">*</text>
<ellipse cx="1312.1" cy="715.4" rx="25.05" ry="14.21" transform="rotate(-154.1 1312.1 715.4)" fill="#ff2525"/>
<rect class="bx" x="1350.0" y="698.3" width="61.0" height="34.2"/><ellipse cx="1380.5" cy="715.4" rx="24.71" ry="13.36" transform="rotate(-151.1 1380.5 715.4)" fill="#ff0606"/><text class="st" x="1379.5" y="727.4">*</text>
<ellipse cx="1448.9" cy="715.4" rx="25.18" ry="14.50" transform="rotate(155.4 1448.9 715.4)" fill="#3131ff"/>
<ellipse cx="1517.3" cy="715.4" rx="28.42" ry="17.05" transform="rotate(-174.2 1517.3 715.4)" fill="#ff9f9f"/>
<ellipse cx="1585.7" cy="715.4" rx="29.32" ry="17.33" transform="rotate(-177.9 1585.7 715.4)" fill="#ffd1d1"/>
<ellipse cx="1654.0" cy="715.4" rx="29.32" ry="17.33" transform="rotate(-177.9 1654.0 715.4)" fill="#ffd1d1"/>
<rect class="bx" x="734.6" y="737.9" width="61.0" height="34.2"/><line class="dg" x1="748.7" y1="770.5" x2="786.7" y2="735.5"/>
<rect class="bx" x="803.0" y="737.9" width="61.0" height="34.2"/><ellipse cx="833.5" cy="755.0" rx="24.13" ry="7.43" transform="rotate(-140.4 833.5 755.0)" fill="#a80000"/><text class="st" x="833.3" y="767.0" letter-spacing="1.6">***</text>
<ellipse cx="901.9" cy="755.0" rx="25.09" ry="14.31" transform="rotate(-154.5 901.9 755.0)" fill="#ff2929"/>
<rect class="bx" x="939.7" y="737.9" width="61.0" height="34.2"/><ellipse cx="970.2" cy="755.0" rx="24.18" ry="8.15" transform="rotate(141.1 970.2 755.0)" fill="#0000af"/><text class="st" x="970.0" y="767.0" letter-spacing="1.6">***</text>
<rect class="bx" x="1008.1" y="737.9" width="61.0" height="34.2"/><ellipse cx="1038.6" cy="755.0" rx="24.67" ry="13.24" transform="rotate(150.7 1038.6 755.0)" fill="#0303ff"/><text class="st" x="1037.6" y="767.0">*</text>
<rect class="bx" x="1076.5" y="737.9" width="61.0" height="34.2"/><ellipse cx="1107.0" cy="755.0" rx="24.26" ry="9.14" transform="rotate(142.4 1107.0 755.0)" fill="#0000ba"/><text class="st" x="1106.8" y="767.0" letter-spacing="1.6">***</text>
<rect class="bx" x="1144.9" y="737.9" width="61.0" height="34.2"/><ellipse cx="1175.4" cy="755.0" rx="24.26" ry="9.14" transform="rotate(142.4 1175.4 755.0)" fill="#0000ba"/><text class="st" x="1175.2" y="767.0" letter-spacing="1.6">***</text>
<rect class="bx" x="1213.3" y="737.9" width="61.0" height="34.2"/><ellipse cx="1243.8" cy="755.0" rx="24.48" ry="12.11" transform="rotate(147.7 1243.8 755.0)" fill="#0000e4"/><text class="st" x="1243.6" y="767.0" letter-spacing="1.6">**</text>
<ellipse cx="1312.1" cy="755.0" rx="25.18" ry="14.50" transform="rotate(155.4 1312.1 755.0)" fill="#3131ff"/>
<rect class="bx" x="1350.0" y="737.9" width="61.0" height="34.2"/><ellipse cx="1380.5" cy="755.0" rx="24.79" ry="13.58" transform="rotate(151.8 1380.5 755.0)" fill="#0e0eff"/><text class="st" x="1379.5" y="767.0">*</text>
<rect class="bx" x="1418.4" y="737.9" width="61.0" height="34.2"/><ellipse cx="1448.9" cy="755.0" rx="24.48" ry="12.11" transform="rotate(-147.7 1448.9 755.0)" fill="#e40000"/><text class="st" x="1448.7" y="767.0" letter-spacing="1.6">**</text>
<ellipse cx="1517.3" cy="755.0" rx="25.49" ry="15.25" transform="rotate(-158.9 1517.3 755.0)" fill="#ff4747"/>
<rect class="bx" x="1555.2" y="737.9" width="61.0" height="34.2"/><ellipse cx="1585.7" cy="755.0" rx="24.71" ry="13.36" transform="rotate(-151.1 1585.7 755.0)" fill="#ff0606"/><text class="st" x="1584.7" y="767.0">*</text>
<rect class="bx" x="1623.5" y="737.9" width="61.0" height="34.2"/><ellipse cx="1654.0" cy="755.0" rx="24.75" ry="13.47" transform="rotate(-151.4 1654.0 755.0)" fill="#ff0a0a"/><text class="st" x="1653.0" y="767.0">*</text>
<rect class="bx" x="803.0" y="777.5" width="61.0" height="34.2"/><line class="dg" x1="817.1" y1="810.1" x2="855.1" y2="775.1"/>
<ellipse cx="901.9" cy="794.6" rx="25.33" ry="14.79" transform="rotate(156.6 901.9 794.6)" fill="#3c3cff"/>
<rect class="bx" x="939.7" y="777.5" width="61.0" height="34.2"/><ellipse cx="970.2" cy="794.6" rx="24.08" ry="6.66" transform="rotate(-139.7 970.2 794.6)" fill="#a00000"/><text class="st" x="970.0" y="806.6" letter-spacing="1.6">***</text>
<rect class="bx" x="1008.1" y="777.5" width="61.0" height="34.2"/><ellipse cx="1038.6" cy="794.6" rx="24.48" ry="12.11" transform="rotate(-147.7 1038.6 794.6)" fill="#e40000"/><text class="st" x="1038.4" y="806.6" letter-spacing="1.6">**</text>
<rect class="bx" x="1076.5" y="777.5" width="61.0" height="34.2"/><ellipse cx="1107.0" cy="794.6" rx="24.18" ry="8.15" transform="rotate(-141.1 1107.0 794.6)" fill="#af0000"/><text class="st" x="1106.8" y="806.6" letter-spacing="1.6">***</text>
<rect class="bx" x="1144.9" y="777.5" width="61.0" height="34.2"/><ellipse cx="1175.4" cy="794.6" rx="24.67" ry="13.24" transform="rotate(-150.7 1175.4 794.6)" fill="#ff0303"/><text class="st" x="1174.4" y="806.6">*</text>
<rect class="bx" x="1213.3" y="777.5" width="61.0" height="34.2"/><ellipse cx="1243.8" cy="794.6" rx="24.48" ry="12.11" transform="rotate(-147.7 1243.8 794.6)" fill="#e40000"/><text class="st" x="1243.6" y="806.6" letter-spacing="1.6">**</text>
<rect class="bx" x="1281.6" y="777.5" width="61.0" height="34.2"/><ellipse cx="1312.1" cy="794.6" rx="24.48" ry="12.11" transform="rotate(-147.7 1312.1 794.6)" fill="#e40000"/><text class="st" x="1311.9" y="806.6" letter-spacing="1.6">**</text>
<rect class="bx" x="1350.0" y="777.5" width="61.0" height="34.2"/><ellipse cx="1380.5" cy="794.6" rx="24.43" ry="11.68" transform="rotate(-146.7 1380.5 794.6)" fill="#dc0000"/><text class="st" x="1380.3" y="806.6" letter-spacing="1.6">**</text>
<rect class="bx" x="1418.4" y="777.5" width="61.0" height="34.2"/><ellipse cx="1448.9" cy="794.6" rx="24.67" ry="13.24" transform="rotate(150.7 1448.9 794.6)" fill="#0303ff"/><text class="st" x="1447.9" y="806.6">*</text>
<ellipse cx="1517.3" cy="794.6" rx="29.15" ry="17.25" transform="rotate(177.0 1517.3 794.6)" fill="#bebeff"/>
<ellipse cx="1585.7" cy="794.6" rx="25.83" ry="15.92" transform="rotate(163.1 1585.7 794.6)" fill="#5b5bff"/>
<ellipse cx="1654.0" cy="794.6" rx="25.49" ry="15.25" transform="rotate(158.9 1654.0 794.6)" fill="#4747ff"/>
<rect class="bx" x="871.4" y="817.1" width="61.0" height="34.2"/><line class="dg" x1="885.5" y1="849.7" x2="923.5" y2="814.7"/>
<ellipse cx="970.2" cy="834.2" rx="25.75" ry="15.79" transform="rotate(-162.2 970.2 834.2)" fill="#ff5757"/>
<ellipse cx="1038.6" cy="834.2" rx="29.57" ry="17.44" transform="rotate(-179.1 1038.6 834.2)" fill="#ffecec"/>
<ellipse cx="1107.0" cy="834.2" rx="25.38" ry="14.95" transform="rotate(-157.4 1107.0 834.2)" fill="#ff4040"/>
<rect class="bx" x="1144.9" y="817.1" width="61.0" height="34.2"/><ellipse cx="1175.4" cy="834.2" rx="24.61" ry="13.01" transform="rotate(-150.0 1175.4 834.2)" fill="#fa0000"/>
<ellipse cx="1243.8" cy="834.2" rx="29.46" ry="17.39" transform="rotate(-178.6 1243.8 834.2)" fill="#ffe0e0"/>
<ellipse cx="1312.1" cy="834.2" rx="28.86" ry="17.15" transform="rotate(175.8 1312.1 834.2)" fill="#ababff"/>
<ellipse cx="1380.5" cy="834.2" rx="28.13" ry="16.96" transform="rotate(173.1 1380.5 834.2)" fill="#9898ff"/>
<rect class="bx" x="1418.4" y="817.1" width="61.0" height="34.2"/><ellipse cx="1448.9" cy="834.2" rx="24.48" ry="12.11" transform="rotate(147.7 1448.9 834.2)" fill="#0000e4"/><text class="st" x="1448.7" y="846.2" letter-spacing="1.6">**</text>
<ellipse cx="1517.3" cy="834.2" rx="29.32" ry="17.33" transform="rotate(-177.9 1517.3 834.2)" fill="#ffd1d1"/>
<ellipse cx="1585.7" cy="834.2" rx="25.62" ry="15.53" transform="rotate(160.5 1585.7 834.2)" fill="#4f4fff"/>
<ellipse cx="1654.0" cy="834.2" rx="29.15" ry="17.25" transform="rotate(177.0 1654.0 834.2)" fill="#bebeff"/>
<rect class="bx" x="939.7" y="856.7" width="61.0" height="34.2"/><line class="dg" x1="953.8" y1="889.3" x2="991.8" y2="854.3"/>
<rect class="bx" x="1008.1" y="856.7" width="61.0" height="34.2"/><ellipse cx="1038.6" cy="873.8" rx="24.48" ry="12.11" transform="rotate(147.7 1038.6 873.8)" fill="#0000e4"/><text class="st" x="1038.4" y="885.8" letter-spacing="1.6">**</text>
<rect class="bx" x="1076.5" y="856.7" width="61.0" height="34.2"/><ellipse cx="1107.0" cy="873.8" rx="24.08" ry="6.66" transform="rotate(139.7 1107.0 873.8)" fill="#0000a0"/><text class="st" x="1106.8" y="885.8" letter-spacing="1.6">***</text>
<rect class="bx" x="1144.9" y="856.7" width="61.0" height="34.2"/><ellipse cx="1175.4" cy="873.8" rx="24.67" ry="13.24" transform="rotate(150.7 1175.4 873.8)" fill="#0303ff"/><text class="st" x="1174.4" y="885.8">*</text>
<rect class="bx" x="1213.3" y="856.7" width="61.0" height="34.2"/><ellipse cx="1243.8" cy="873.8" rx="24.18" ry="8.15" transform="rotate(141.1 1243.8 873.8)" fill="#0000af"/><text class="st" x="1243.6" y="885.8" letter-spacing="1.6">***</text>
<rect class="bx" x="1281.6" y="856.7" width="61.0" height="34.2"/><ellipse cx="1312.1" cy="873.8" rx="24.48" ry="12.11" transform="rotate(147.7 1312.1 873.8)" fill="#0000e4"/><text class="st" x="1311.9" y="885.8" letter-spacing="1.6">**</text>
<rect class="bx" x="1350.0" y="856.7" width="61.0" height="34.2"/><ellipse cx="1380.5" cy="873.8" rx="24.53" ry="12.53" transform="rotate(148.8 1380.5 873.8)" fill="#0000eb"/><text class="st" x="1380.3" y="885.8" letter-spacing="1.6">**</text>
<rect class="bx" x="1418.4" y="856.7" width="61.0" height="34.2"/><ellipse cx="1448.9" cy="873.8" rx="24.43" ry="11.68" transform="rotate(-146.7 1448.9 873.8)" fill="#dc0000"/><text class="st" x="1448.7" y="885.8" letter-spacing="1.6">**</text>
<ellipse cx="1517.3" cy="873.8" rx="29.46" ry="17.39" transform="rotate(-178.6 1517.3 873.8)" fill="#ffe0e0"/>
<ellipse cx="1585.7" cy="873.8" rx="26.24" ry="16.17" transform="rotate(-165.1 1585.7 873.8)" fill="#ff6666"/>
<ellipse cx="1654.0" cy="873.8" rx="25.96" ry="16.00" transform="rotate(-163.7 1654.0 873.8)" fill="#ff5e5e"/>
<rect class="bx" x="1008.1" y="896.3" width="61.0" height="34.2"/><line class="dg" x1="1022.2" y1="928.9" x2="1060.2" y2="893.9"/>
<rect class="bx" x="1076.5" y="896.3" width="61.0" height="34.2"/><ellipse cx="1107.0" cy="913.4" rx="24.26" ry="9.14" transform="rotate(142.4 1107.0 913.4)" fill="#0000ba"/><text class="st" x="1106.8" y="925.4" letter-spacing="1.6">***</text>
<ellipse cx="1175.4" cy="913.4" rx="28.42" ry="17.05" transform="rotate(174.2 1175.4 913.4)" fill="#9f9fff"/>
<rect class="bx" x="1213.3" y="896.3" width="61.0" height="34.2"/><ellipse cx="1243.8" cy="913.4" rx="24.38" ry="11.23" transform="rotate(145.8 1243.8 913.4)" fill="#0000d5"/><text class="st" x="1243.6" y="925.4" letter-spacing="1.6">**</text>
<rect class="bx" x="1281.6" y="896.3" width="61.0" height="34.2"/><ellipse cx="1312.1" cy="913.4" rx="24.26" ry="9.14" transform="rotate(142.4 1312.1 913.4)" fill="#0000ba"/><text class="st" x="1311.9" y="925.4" letter-spacing="1.6">***</text>
<rect class="bx" x="1350.0" y="896.3" width="61.0" height="34.2"/><ellipse cx="1380.5" cy="913.4" rx="24.26" ry="9.14" transform="rotate(142.4 1380.5 913.4)" fill="#0000ba"/><text class="st" x="1380.3" y="925.4" letter-spacing="1.6">***</text>
<ellipse cx="1448.9" cy="913.4" rx="26.99" ry="16.53" transform="rotate(-168.4 1448.9 913.4)" fill="#ff7979"/>
<ellipse cx="1517.3" cy="913.4" rx="29.53" ry="17.42" transform="rotate(179.0 1517.3 913.4)" fill="#e8e8ff"/>
<ellipse cx="1585.7" cy="913.4" rx="29.51" ry="17.42" transform="rotate(178.9 1585.7 913.4)" fill="#e6e6ff"/>
<ellipse cx="1654.0" cy="913.4" rx="26.10" ry="16.09" transform="rotate(-164.4 1654.0 913.4)" fill="#ff6262"/>
<rect class="bx" x="1076.5" y="935.9" width="61.0" height="34.2"/><line class="dg" x1="1090.6" y1="968.5" x2="1128.6" y2="933.5"/>
<ellipse cx="1175.4" cy="953.0" rx="25.33" ry="14.79" transform="rotate(156.6 1175.4 953.0)" fill="#3c3cff"/>
<rect class="bx" x="1213.3" y="935.9" width="61.0" height="34.2"/><ellipse cx="1243.8" cy="953.0" rx="24.18" ry="8.15" transform="rotate(141.1 1243.8 953.0)" fill="#0000af"/><text class="st" x="1243.6" y="965.0" letter-spacing="1.6">***</text>
<rect class="bx" x="1281.6" y="935.9" width="61.0" height="34.2"/><ellipse cx="1312.1" cy="953.0" rx="24.26" ry="9.14" transform="rotate(142.4 1312.1 953.0)" fill="#0000ba"/><text class="st" x="1311.9" y="965.0" letter-spacing="1.6">***</text>
<rect class="bx" x="1350.0" y="935.9" width="61.0" height="34.2"/><ellipse cx="1380.5" cy="953.0" rx="24.53" ry="12.53" transform="rotate(148.8 1380.5 953.0)" fill="#0000eb"/><text class="st" x="1380.3" y="965.0" letter-spacing="1.6">**</text>
<rect class="bx" x="1418.4" y="935.9" width="61.0" height="34.2"/><ellipse cx="1448.9" cy="953.0" rx="24.43" ry="11.68" transform="rotate(-146.7 1448.9 953.0)" fill="#dc0000"/><text class="st" x="1448.7" y="965.0" letter-spacing="1.6">**</text>
<ellipse cx="1517.3" cy="953.0" rx="29.25" ry="17.30" transform="rotate(177.6 1517.3 953.0)" fill="#c9c9ff"/>
<ellipse cx="1585.7" cy="953.0" rx="29.46" ry="17.39" transform="rotate(-178.6 1585.7 953.0)" fill="#ffe0e0"/>
<ellipse cx="1654.0" cy="953.0" rx="27.30" ry="16.66" transform="rotate(-169.6 1654.0 953.0)" fill="#ff8181"/>
<rect class="bx" x="1144.9" y="975.5" width="61.0" height="34.2"/><line class="dg" x1="1159.0" y1="1008.1" x2="1197.0" y2="973.1"/>
<ellipse cx="1243.8" cy="992.6" rx="25.18" ry="14.50" transform="rotate(155.4 1243.8 992.6)" fill="#3131ff"/>
<ellipse cx="1312.1" cy="992.6" rx="29.02" ry="17.18" transform="rotate(-176.3 1312.1 992.6)" fill="#ffafaf"/>
<ellipse cx="1380.5" cy="992.6" rx="29.68" ry="17.48" transform="rotate(-179.7 1380.5 992.6)" fill="#fff7f7"/>
<rect class="bx" x="1418.4" y="975.5" width="61.0" height="34.2"/><ellipse cx="1448.9" cy="992.6" rx="24.45" ry="11.90" transform="rotate(-147.2 1448.9 992.6)" fill="#e00000"/><text class="st" x="1448.7" y="1004.6" letter-spacing="1.6">**</text>
<rect class="bx" x="1486.8" y="975.5" width="61.0" height="34.2"/><ellipse cx="1517.3" cy="992.6" rx="24.71" ry="13.36" transform="rotate(-151.1 1517.3 992.6)" fill="#ff0606"/><text class="st" x="1516.3" y="1004.6">*</text>
<rect class="bx" x="1555.2" y="975.5" width="61.0" height="34.2"/><ellipse cx="1585.7" cy="992.6" rx="24.38" ry="11.23" transform="rotate(-145.8 1585.7 992.6)" fill="#d50000"/><text class="st" x="1585.5" y="1004.6" letter-spacing="1.6">**</text>
<rect class="bx" x="1623.5" y="975.5" width="61.0" height="34.2"/><ellipse cx="1654.0" cy="992.6" rx="24.83" ry="13.68" transform="rotate(-152.2 1654.0 992.6)" fill="#ff1212"/><text class="st" x="1653.0" y="1004.6">*</text>
<rect class="bx" x="1213.3" y="1015.1" width="61.0" height="34.2"/><line class="dg" x1="1227.4" y1="1047.7" x2="1265.4" y2="1012.7"/>
<rect class="bx" x="1281.6" y="1015.1" width="61.0" height="34.2"/><ellipse cx="1312.1" cy="1032.2" rx="24.67" ry="13.24" transform="rotate(150.7 1312.1 1032.2)" fill="#0303ff"/>
<rect class="bx" x="1350.0" y="1015.1" width="61.0" height="34.2"/><ellipse cx="1380.5" cy="1032.2" rx="24.67" ry="13.24" transform="rotate(150.7 1380.5 1032.2)" fill="#0303ff"/>
<rect class="bx" x="1418.4" y="1015.1" width="61.0" height="34.2"/><ellipse cx="1448.9" cy="1032.2" rx="24.43" ry="11.68" transform="rotate(-146.7 1448.9 1032.2)" fill="#dc0000"/><text class="st" x="1448.7" y="1044.2" letter-spacing="1.6">**</text>
<ellipse cx="1517.3" cy="1032.2" rx="29.51" ry="17.42" transform="rotate(178.9 1517.3 1032.2)" fill="#e6e6ff"/>
<ellipse cx="1585.7" cy="1032.2" rx="29.25" ry="17.30" transform="rotate(177.6 1585.7 1032.2)" fill="#c9c9ff"/>
<ellipse cx="1654.0" cy="1032.2" rx="29.05" ry="17.20" transform="rotate(-176.5 1654.0 1032.2)" fill="#ffb3b3"/>
<rect class="bx" x="1281.6" y="1054.7" width="61.0" height="34.2"/><line class="dg" x1="1295.7" y1="1087.3" x2="1333.7" y2="1052.3"/>
<rect class="bx" x="1350.0" y="1054.7" width="61.0" height="34.2"/><ellipse cx="1380.5" cy="1071.8" rx="24.18" ry="8.15" transform="rotate(141.1 1380.5 1071.8)" fill="#0000af"/>
<ellipse cx="1448.9" cy="1071.8" rx="29.46" ry="17.39" transform="rotate(-178.6 1448.9 1071.8)" fill="#ffe0e0"/>
<ellipse cx="1517.3" cy="1071.8" rx="27.71" ry="16.82" transform="rotate(171.4 1517.3 1071.8)" fill="#8c8cff"/>
<ellipse cx="1585.7" cy="1071.8" rx="28.13" ry="16.96" transform="rotate(173.1 1585.7 1071.8)" fill="#9898ff"/>
<ellipse cx="1654.0" cy="1071.8" rx="29.64" ry="17.46" transform="rotate(-179.5 1654.0 1071.8)" fill="#fff4f4"/>
<rect class="bx" x="1350.0" y="1094.3" width="61.0" height="34.2"/><line class="dg" x1="1364.1" y1="1126.9" x2="1402.1" y2="1091.9"/>
<ellipse cx="1448.9" cy="1111.4" rx="29.71" ry="17.49" transform="rotate(179.8 1448.9 1111.4)" fill="#fbfbff"/>
<ellipse cx="1517.3" cy="1111.4" rx="29.25" ry="17.30" transform="rotate(177.6 1517.3 1111.4)" fill="#c9c9ff"/>
<ellipse cx="1585.7" cy="1111.4" rx="29.32" ry="17.33" transform="rotate(177.9 1585.7 1111.4)" fill="#d1d1ff"/>
<ellipse cx="1654.0" cy="1111.4" rx="29.39" ry="17.37" transform="rotate(-178.3 1654.0 1111.4)" fill="#ffd9d9"/>
<rect class="bx" x="1418.4" y="1133.9" width="61.0" height="34.2"/><line class="dg" x1="1432.5" y1="1166.5" x2="1470.5" y2="1131.5"/>
<ellipse cx="1517.3" cy="1151.0" rx="29.18" ry="17.27" transform="rotate(177.2 1517.3 1151.0)" fill="#c2c2ff"/>
<ellipse cx="1585.7" cy="1151.0" rx="25.96" ry="16.00" transform="rotate(163.7 1585.7 1151.0)" fill="#5e5eff"/>
<ellipse cx="1654.0" cy="1151.0" rx="25.83" ry="15.92" transform="rotate(163.1 1654.0 1151.0)" fill="#5b5bff"/>
<rect class="bx" x="1486.8" y="1173.5" width="61.0" height="34.2"/><line class="dg" x1="1500.9" y1="1206.1" x2="1538.9" y2="1171.1"/>
<rect class="bx" x="1555.2" y="1173.5" width="61.0" height="34.2"/><ellipse cx="1585.7" cy="1190.6" rx="24.26" ry="9.14" transform="rotate(142.4 1585.7 1190.6)" fill="#0000ba"/><text class="st" x="1585.5" y="1202.6" letter-spacing="1.6">***</text>
<rect class="bx" x="1623.5" y="1173.5" width="61.0" height="34.2"/><ellipse cx="1654.0" cy="1190.6" rx="24.26" ry="9.14" transform="rotate(142.4 1654.0 1190.6)" fill="#0000ba"/><text class="st" x="1653.8" y="1202.6" letter-spacing="1.6">***</text>
<rect class="bx" x="1555.2" y="1213.1" width="61.0" height="34.2"/><line class="dg" x1="1569.3" y1="1245.7" x2="1607.3" y2="1210.7"/>
<rect class="bx" x="1623.5" y="1213.1" width="61.0" height="34.2"/><ellipse cx="1654.0" cy="1230.2" rx="24.48" ry="12.11" transform="rotate(147.7 1654.0 1230.2)" fill="#0000e4"/><text class="st" x="1653.8" y="1242.2" letter-spacing="1.6">**</text>
<rect class="bx" x="1623.5" y="1252.7" width="61.0" height="34.2"/><line class="dg" x1="1637.6" y1="1285.3" x2="1675.6" y2="1250.3"/>
<text transform="translate(42.9 368.4) scale(1.052 1)" font-size="28.9" text-anchor="end">pH</text>
<text transform="translate(108.7 410.7) scale(1.018 1)" font-size="28.9" text-anchor="end">Salt</text>
<text transform="translate(181.7 448.5) scale(1.052 1)" font-size="28.9" text-anchor="end">EC</text>
<text transform="translate(244.7 490.0) scale(1.052 1)" font-size="28.9" text-anchor="end">C</text>
<text transform="translate(315.6 527.5) scale(1.052 1)" font-size="28.9" text-anchor="end">N</text>
<text transform="translate(385.8 567.3) scale(1.052 1)" font-size="28.9" text-anchor="end">C/N ratio</text>
<text transform="translate(449.8 606.9) scale(1.052 1)" font-size="28.9" text-anchor="end" class="i">Actinobacteria</text>
<text transform="translate(518.8 644.2) scale(1.052 1)" font-size="28.9" text-anchor="end" class="i">Firmicutes</text>
<text transform="translate(590.0 686.6) scale(1.052 1)" font-size="28.9" text-anchor="end" class="i">Chloroflexi</text>
<text transform="translate(659.1 724.4) scale(1.052 1)" font-size="28.9" text-anchor="end" class="i">Gemmatimonadetes</text>
<text transform="translate(729.9 763.2) scale(1.052 1)" font-size="28.9" text-anchor="end" class="i">Nitrospirae</text>
<text transform="translate(797.9 801.3) scale(1.052 1)" font-size="28.9" text-anchor="end" class="i">Bacteroidetes</text>
<text transform="translate(865.9 841.4) scale(1.052 1)" font-size="28.9" text-anchor="end" class="i">Proteobacteria</text>
<text transform="translate(932.9 882.0) scale(1.052 1)" font-size="28.9" text-anchor="end" class="i">Acidobacteria</text>
<text transform="translate(1004.7 921.3) scale(1.052 1)" font-size="28.9" text-anchor="end" class="i">Cyanobacteria</text>
<text transform="translate(1063.8 966.7) scale(1.052 1)" font-size="28.9" text-anchor="end" class="i">Actinobacteria</text>
<text transform="translate(1133.0 1003.6) scale(1.052 1)" font-size="28.9" text-anchor="end" class="i">Firmicutes</text>
<text transform="translate(1203.9 1047.2) scale(1.052 1)" font-size="28.9" text-anchor="end" class="i">Chloroflexi</text>
<text transform="translate(1273.3 1084.5) scale(1.052 1)" font-size="28.9" text-anchor="end" class="i">Gemmatimonadetes</text>
<text transform="translate(1344.1 1123.1) scale(1.052 1)" font-size="28.9" text-anchor="end" class="i">Nitrospirae</text>
<text transform="translate(1411.6 1161.4) scale(1.052 1)" font-size="28.9" text-anchor="end" class="i">Bacteroidetes</text>
<text transform="translate(1480.2 1200.7) scale(1.052 1)" font-size="28.9" text-anchor="end" class="i">Proteobacteria</text>
<text transform="translate(1547.1 1239.5) scale(1.052 1)" font-size="28.9" text-anchor="end" class="i">Acidobacteria</text>
<text transform="translate(1618.6 1281.3) scale(1.052 1)" font-size="28.9" text-anchor="end" class="i">Cyanobacteria</text>
<text transform="translate(86.4 332.8) scale(1.150 1) rotate(-90)" font-size="28.7" text-anchor="start">pH</text>
<text transform="translate(159.6 332.8) scale(1.150 1) rotate(-90)" font-size="27.0" text-anchor="start">Salt</text>
<text transform="translate(233.3 332.8) scale(1.150 1) rotate(-90)" font-size="28.7" text-anchor="start">EC</text>
<text transform="translate(294.4 332.8) scale(1.150 1) rotate(-90)" font-size="28.7" text-anchor="start">C</text>
<text transform="translate(363.6 332.8) scale(1.150 1) rotate(-90)" font-size="28.7" text-anchor="start">N</text>
<text transform="translate(438.0 332.8) scale(1.150 1) rotate(-90)" font-size="28.7" text-anchor="start">C/N ratio</text>
<text transform="translate(507.6 331.6) scale(1.130 1) rotate(-90)" font-size="28.8" text-anchor="start" class="i">Actinobacteria</text>
<text transform="translate(569.6 331.3) scale(1.130 1) rotate(-90)" font-size="28.8" text-anchor="start" class="i">Firmicutes</text>
<text transform="translate(637.6 328.0) scale(1.130 1) rotate(-90)" font-size="28.2" text-anchor="start" class="i">Chloroflexi</text>
<text transform="translate(708.1 330.5) scale(1.130 1) rotate(-90)" font-size="28.8" text-anchor="start" class="i">Gemmatimonadetes</text>
<text transform="translate(772.6 329.0) scale(1.130 1) rotate(-90)" font-size="28.8" text-anchor="start" class="i">Nitrospirae</text>
<text transform="translate(841.6 326.7) scale(1.130 1) rotate(-90)" font-size="28.8" text-anchor="start" class="i">Bacteroidetes</text>
<text transform="translate(913.6 328.0) scale(1.130 1) rotate(-90)" font-size="28.8" text-anchor="start" class="i">Proteobacteria</text>
<text transform="translate(982.6 330.0) scale(1.130 1) rotate(-90)" font-size="28.8" text-anchor="start" class="i">Acidobacteria</text>
<text transform="translate(1049.6 330.7) scale(1.130 1) rotate(-90)" font-size="28.8" text-anchor="start" class="i">Cyanobacteria</text>
<text transform="translate(1118.6 331.0) scale(1.130 1) rotate(-90)" font-size="28.8" text-anchor="start" class="i">Actinobacteria</text>
<text transform="translate(1180.6 328.0) scale(1.130 1) rotate(-90)" font-size="28.8" text-anchor="start" class="i">Firmicutes</text>
<text transform="translate(1247.6 328.0) scale(1.130 1) rotate(-90)" font-size="28.8" text-anchor="start" class="i">Chloroflexi</text>
<text transform="translate(1317.6 328.5) scale(1.130 1) rotate(-90)" font-size="28.8" text-anchor="start" class="i">Gemmatimonadetes</text>
<text transform="translate(1381.6 326.7) scale(1.130 1) rotate(-90)" font-size="28.8" text-anchor="start" class="i">Nitrospirae</text>
<text transform="translate(1452.6 325.7) scale(1.130 1) rotate(-90)" font-size="28.8" text-anchor="start" class="i">Bacteroidetes</text>
<text transform="translate(1524.6 325.7) scale(1.130 1) rotate(-90)" font-size="28.8" text-anchor="start" class="i">Proteobacteria</text>
<text transform="translate(1591.6 325.7) scale(1.130 1) rotate(-90)" font-size="28.8" text-anchor="start" class="i">Acidobacteria</text>
<text transform="translate(1658.6 327.4) scale(1.130 1) rotate(-90)" font-size="28.8" text-anchor="start" class="i">Cyanobacteria</text>
<text transform="translate(786.5 34.0) scale(1.050 1)" font-size="28.2" text-anchor="middle">Relative abundance</text>
<text transform="translate(1256 25.7) scale(1.050 1)" font-size="28.2">Shannon<tspan font-size="17" dy="6" fill="#333">phyla</tspan><tspan dy="-6"> diversity</tspan></text>
<text transform="translate(195.0 751.5) scale(1.080 1) rotate(-90)" font-size="28.5" text-anchor="middle">Relative abundance</text>
<text transform="translate(806.2 1262) scale(1.07 1) rotate(-90)" font-size="28.4">Shannon<tspan font-size="17.3" dy="6.3" fill="#333">phyla</tspan><tspan dy="-6.3"> diversity</tspan></text>
<path class="br" d="M490.2 83.0 L490.8 71.6 Q491.4 66.6 496.7 66.6 H772.1 Q775.6 66.6 775.6 61.6 V39.3 V61.6 Q775.6 66.6 779.1 66.6 H1054.2 Q1059.5 66.6 1060.1 71.6 L1060.7 83.0"/>
<path class="br" d="M1093.5 83.0 L1094.1 71.6 Q1094.7 66.6 1100.0 66.6 H1375.8 Q1379.3 66.6 1379.3 61.6 V39.3 V61.6 Q1379.3 66.6 1382.8 66.6 H1657.8 Q1663.1 66.6 1663.7 71.6 L1664.3 83.0"/>
<path class="br" d="M253.3 592.2 L239.0 592.8 Q234.0 593.4 234.0 598.7 V754.5 Q234.0 758.0 229.0 758.0 H205.0 H229.0 Q234.0 758.0 234.0 761.5 V915.7 Q234.0 921.0 239.0 921.6 L253.3 922.2"/>
<path class="br" d="M871.0 951.2 L856.7 951.8 Q851.7 952.4 851.7 957.7 V1110.9 Q851.7 1114.4 846.7 1114.4 H822.6 H846.7 Q851.7 1114.4 851.7 1117.9 V1272.5 Q851.7 1277.8 856.7 1278.4 L871.0 1279.0"/>
<text transform="translate(76 1174.7) scale(1.050 1)" font-size="31.3">*<tspan class="i">p</tspan> &lt; 0.05</text>
<text transform="translate(76 1211) scale(1.050 1)" font-size="31.3">**<tspan class="i">p</tspan> &lt; 0.01</text>
<text transform="translate(76 1247.8) scale(1.050 1)" font-size="31.3">***<tspan class="i">p</tspan> &lt; 0.001</text>
<rect x="1696.5" y="339" width="17" height="316" fill="url(#cb)"/>
<text transform="translate(1729.8 354.4) scale(1.053 1)" font-size="28.8" text-anchor="start">1</text>
<text transform="translate(1729.8 452.8) scale(1.053 1)" font-size="28.8" text-anchor="start">0.333</text>
<text transform="translate(1719.8 551.2) scale(1.053 1)" font-size="28.8" text-anchor="start">-0.333</text>
<text transform="translate(1719.8 650.8) scale(1.053 1)" font-size="28.8" text-anchor="start">-1</text>
</svg>
</body></html>
